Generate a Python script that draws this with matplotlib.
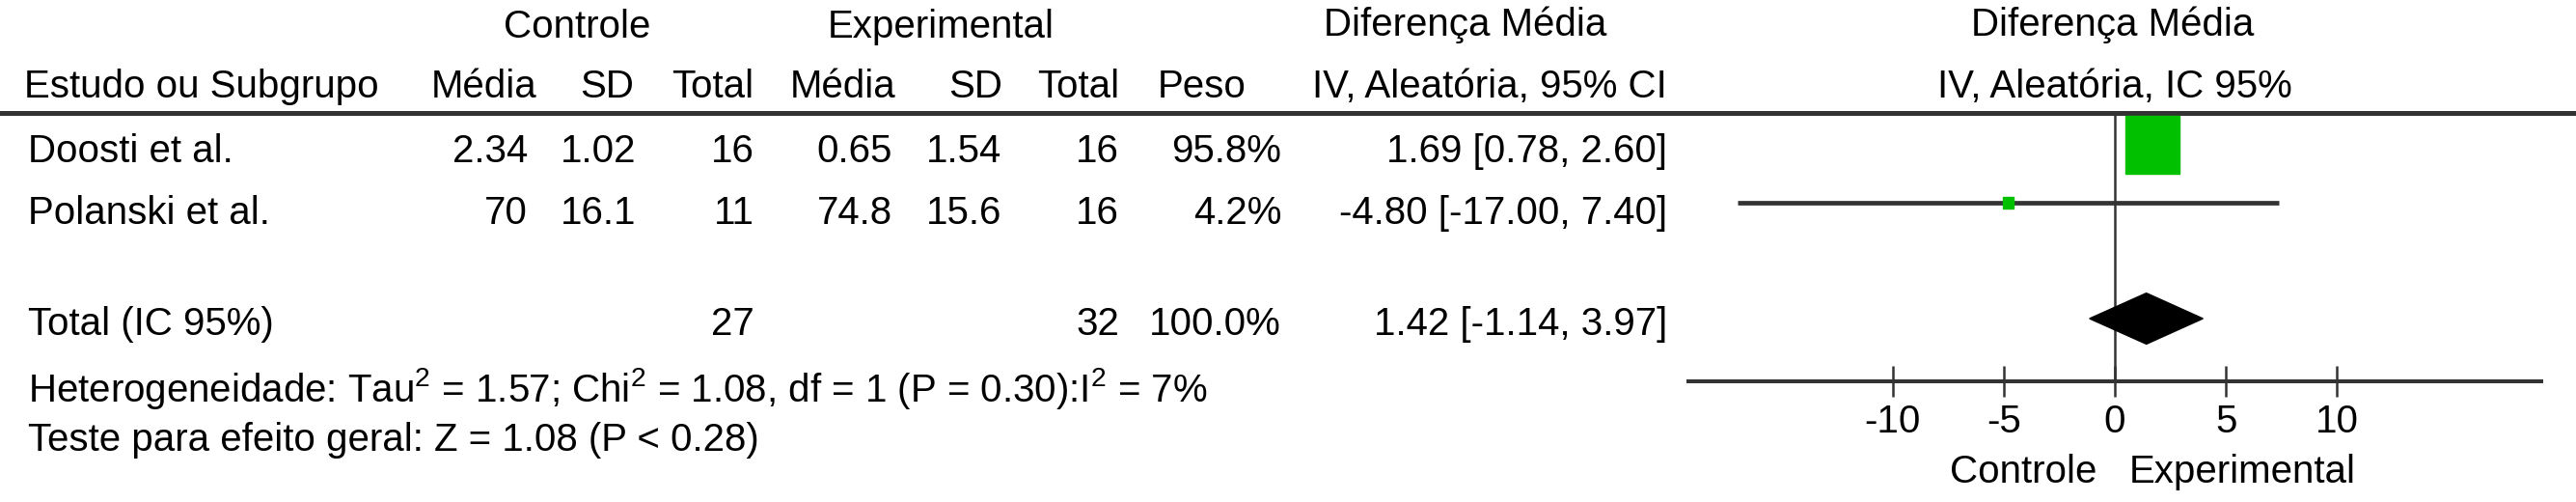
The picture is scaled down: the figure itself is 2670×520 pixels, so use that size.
import matplotlib
matplotlib.use("Agg")
import matplotlib.pyplot as plt
from matplotlib.patches import Rectangle, Polygon

plt.rcParams['font.family'] = ['Liberation Sans', 'DejaVu Sans']
plt.rcParams['mathtext.default'] = 'regular'

# data
studies = ["Doosti et al.", "Polanski et al."]
ctrl_mean = [2.34, 70]
ctrl_sd = [1.02, 16.1]
ctrl_n = [16, 11]
exp_mean = [0.65, 74.8]
exp_sd = [1.54, 15.6]
exp_n = [16, 16]
weights = [95.8, 4.2]
md = [1.69, -4.80]
ci_lo = [0.78, -17.00]
ci_hi = [2.60, 7.40]
total_label = "Total (IC 95%)"
total_md, total_lo, total_hi = 1.42, -1.14, 3.97
het_text = "Heterogeneidade: Tau$^2$ = 1.57; Chi$^2$ = 1.08, df = 1 (P = 0.30):I$^2$ = 7%"
test_text = "Teste para efeito geral: Z = 1.08 (P < 0.28)"
xticks = [-10, -5, 0, 5, 10]

W, H = 2670, 520
FS = 29
GREEN = '#00c000'
DARK = '#333333'

fig = plt.figure(figsize=(W / 100, H / 100), dpi=100)

# background axes in pixel coords for the table part
bg = fig.add_axes([0, 0, 1, 1])
bg.set_xlim(0, W)
bg.set_ylim(H, 0)
bg.axis('off')

def txt(x, y, s, ha='left'):
    bg.text(x, y, s, ha=ha, va='baseline', fontsize=FS, color='black')

# headers
txt(598, 39, "Controle", 'center')
txt(975, 39, "Experimental", 'center')
txt(1519, 37, "Diferença Média", 'center')
txt(2190, 37, "Diferença Média", 'center')
txt(25, 101, "Estudo ou Subgrupo")
txt(557, 101, "Média", 'right')
txt(657, 101, "SD", 'right')
txt(781, 101, "Total", 'right')
txt(928, 101, "Média", 'right')
txt(1039, 101, "SD", 'right')
txt(1160, 101, "Total", 'right')
txt(1292, 101, "Peso", 'right')
txt(1544, 101, "IV, Aleatória, 95% CI", 'center')
txt(2192, 101, "IV, Aleatória, IC 95%", 'center')

bg.axhline(117, color=DARK, lw=3.6, zorder=1)

# study rows
row_base = [168, 232]
for i, name in enumerate(studies):
    y = row_base[i]
    txt(29, y, name)
    txt(547, y, f"{ctrl_mean[i]:g}", 'right')
    txt(659, y, f"{ctrl_sd[i]:g}", 'right')
    txt(782, y, f"{ctrl_n[i]}", 'right')
    txt(925, y, f"{exp_mean[i]:g}", 'right')
    txt(1038, y, f"{exp_sd[i]:g}", 'right')
    txt(1160, y, f"{exp_n[i]}", 'right')
    txt(1328, y, f"{weights[i]:.1f}%", 'right')
    txt(1728, y, f"{md[i]:.2f} [{ci_lo[i]:.2f}, {ci_hi[i]:.2f}]", 'right')

# total row
txt(29, 347, total_label)
txt(782, 347, f"{sum(ctrl_n)}", 'right')
txt(1160, 347, f"{sum(exp_n)}", 'right')
txt(1328, 347, f"{sum(weights):.1f}%", 'right')
txt(1728, 347, f"{total_md:.2f} [{total_lo:.2f}, {total_hi:.2f}]", 'right')
txt(29, 416, het_text)
txt(29, 467, test_text)

txt(2173, 500, "Controle", 'right')
txt(2207, 500, "Experimental")

# forest plot axes
x0, x1 = 1750, 2634
y_top, y_bot = 115, 395
ax = fig.add_axes([x0 / W, (H - y_bot) / H, (x1 - x0) / W, (y_bot - y_top) / H])
ax.patch.set_alpha(0)
ax.set_xlim(-19.2, 19.2)
ax.set_ylim(4.083, -0.583)
for s in ['top', 'left', 'right']:
    ax.spines[s].set_visible(False)
ax.spines['bottom'].set_linewidth(2.9)
ax.spines['bottom'].set_color(DARK)
ax.set_yticks([])
ax.set_xticks(xticks)
ax.set_xticklabels([str(t) for t in xticks], fontsize=FS)
ax.tick_params(axis='x', direction='inout', length=23, width=1.8, color=DARK, pad=5)

ax.axvline(0, color='#333333', lw=1.8, zorder=1)

rows = [0, 1]
for i, r in enumerate(rows):
    ax.plot([ci_lo[i], ci_hi[i]], [r, r], color=DARK, lw=3.4, solid_capstyle='butt', zorder=2)
    k = (weights[i] / 100) ** 0.5
    w, h = 2.48 * k, 1.02 * k
    ax.add_patch(Rectangle((md[i] - w / 2, r - h / 2), w, h, color=GREEN, zorder=3))

tr = 3
hh = 0.44
ax.add_patch(Polygon([(total_lo, tr), (total_md, tr - hh), (total_hi, tr), (total_md, tr + hh)],
                     closed=True, color='black', zorder=3))

fig.savefig("out.png", dpi=100)
